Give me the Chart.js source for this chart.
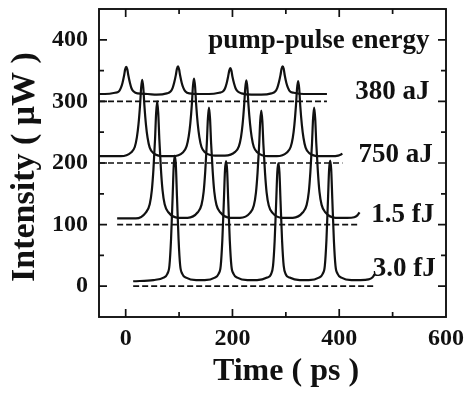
<!DOCTYPE html>
<html>
<head>
<meta charset="utf-8">
<script src="https://cdn.jsdelivr.net/npm/chart.js@4.4.1/dist/chart.umd.min.js"></script>
<style>
 html, body { margin: 0; padding: 0; background: #fff; }
 #wrap { width: 467px; height: 393px; }
</style>
</head>
<body>
<div id="wrap"><canvas id="pulses"></canvas></div>
<script>
// pump-pulse energy labels
var energies = ['380 aJ', '750 aJ', '1.5 fJ', '3.0 fJ'];
// offset of each trace (dashed zero line)
var offsets = [300, 200, 100, 0];
// where each dashed line starts / ends (ps)
var dashStart = [-50, -50, -16, 14];
var dashEnd = [377, 406, 438, 466];
// tick values
var xTickVals = [-50, 0, 100, 200, 300, 400, 500, 600];
var yTickVals = [-50, 0, 50, 100, 150, 200, 250, 300, 350, 400, 450];

// 380 aJ
var t380 = [-50,
 -39, -20, -13, -9, -6, -3, -1, 1, 3, 5, 8, 11, 15, 22, 41,
 58, 77, 84, 88, 91, 94, 96, 98, 100, 102, 105, 108, 112, 119, 138,
 156, 175, 182, 186, 189, 192, 194, 196, 198, 200, 203, 206, 210, 217, 236,
 254, 273, 280, 284, 287, 290, 292, 294, 296, 298, 301, 304, 308, 315, 334,
 377];
var i380 = [312,
 312, 314, 316, 322, 330, 342, 352, 356, 352, 342, 330, 321, 316, 313, 312,
 311, 313, 316, 322, 331, 343, 353, 357, 352, 342, 330, 322, 316, 313, 312,
 312, 314, 316, 321, 329, 341, 350, 354, 350, 340, 329, 321, 316, 313, 311,
 311, 313, 316, 322, 331, 343, 353, 357, 353, 342, 330, 322, 316, 314, 312,
 312];

// 750 aJ
var t750 = [-50,
 -9, 10, 17, 21, 24, 27, 29, 31, 33, 35, 38, 41, 45, 52, 71,
 88, 107, 114, 118, 121, 124, 126, 128, 130, 132, 135, 138, 142, 149, 168,
 186, 205, 212, 216, 219, 222, 224, 226, 228, 230, 233, 236, 240, 247, 266,
 283, 302, 309, 313, 316, 319, 321, 323, 325, 327, 330, 333, 337, 344, 363,
 385, 398, 406];
var i750 = [211,
 211, 217, 226, 242, 263, 295, 323, 335, 322, 294, 262, 241, 225, 216, 211,
 211, 217, 227, 243, 264, 296, 325, 337, 324, 295, 263, 242, 226, 217, 212,
 212, 218, 227, 242, 263, 295, 322, 334, 322, 294, 263, 242, 226, 217, 211,
 211, 217, 226, 241, 262, 294, 321, 333, 321, 293, 262, 241, 225, 216, 211,
 211, 212, 215];

// 1.5 fJ
var t15 = [-16,
 19, 38, 45, 49, 52, 55, 57, 59, 61, 63, 66, 69, 73, 80, 99,
 116, 135, 142, 146, 149, 152, 154, 156, 158, 160, 163, 166, 170, 177, 196,
 214, 233, 240, 244, 247, 250, 252, 254, 256, 258, 261, 264, 268, 275, 294,
 313, 332, 339, 343, 346, 349, 351, 353, 355, 357, 360, 363, 367, 374, 393,
 415, 428, 434, 438];
var i15 = [110,
 110, 120, 133, 156, 190, 239, 281, 300, 281, 239, 190, 156, 133, 120, 111,
 111, 120, 132, 153, 186, 232, 272, 290, 272, 232, 186, 153, 132, 120, 111,
 111, 119, 131, 152, 184, 229, 268, 285, 268, 229, 184, 152, 131, 119, 111,
 111, 120, 132, 153, 186, 232, 272, 290, 272, 232, 186, 153, 132, 120, 111,
 111, 112, 115, 120];

// 3.0 fJ
var t30 = [14,
 52, 71, 78, 82, 85, 88, 90, 92, 94, 96, 99, 102, 106, 113, 132,
 148, 167, 174, 178, 181, 184, 186, 188, 190, 192, 195, 198, 202, 209, 228,
 246, 265, 272, 276, 279, 282, 284, 286, 288, 290, 293, 296, 300, 307, 326,
 343, 362, 369, 373, 376, 379, 381, 383, 385, 387, 390, 393, 397, 404, 423,
 440, 455, 462, 466];
var i30 = [8,
 10, 14, 20, 34, 77, 147, 196, 212, 196, 147, 77, 34, 20, 14, 10,
 10, 14, 20, 33, 74, 141, 188, 203, 188, 141, 74, 33, 20, 14, 10,
 10, 14, 19, 33, 73, 139, 185, 200, 185, 139, 73, 33, 19, 14, 10,
 10, 14, 20, 33, 74, 142, 189, 204, 189, 142, 74, 33, 20, 14, 10,
 10, 11, 14, 19];

var times = [t380, t750, t15, t30];
var intens = [i380, i750, i15, i30];

function pts(xs, ys) {
  return xs.map(function (x, k) { return { x: x, y: ys[k] }; });
}

var datasets = [];
for (var k = 0; k < energies.length; k++) {
  datasets.push({
    label: energies[k],
    data: pts(times[k], intens[k]),
    borderColor: '#111',
    borderWidth: 2.2,
    pointRadius: 0,
    cubicInterpolationMode: 'monotone',
    fill: false
  });
  datasets.push({
    label: energies[k] + ' zero',
    data: [{ x: dashStart[k], y: offsets[k] }, { x: dashEnd[k], y: offsets[k] }],
    borderColor: '#111',
    borderWidth: 1.7,
    borderDash: [6, 3],
    pointRadius: 0,
    fill: false
  });
}

var serif = '"Liberation Serif", "Times New Roman", serif';

// frame with inward ticks on all four sides, axis titles and the text labels
var framePlugin = {
  id: 'frame',
  afterDatasetsDraw: function (chart) {
    var ctx = chart.ctx, a = chart.chartArea;
    var xs = chart.scales.x, ys = chart.scales.y;
    ctx.save();
    ctx.strokeStyle = '#111';
    ctx.lineWidth = 1.9;
    ctx.strokeRect(a.left, a.top, a.right - a.left, a.bottom - a.top);
    ctx.lineWidth = 1.7;
    ctx.beginPath();
    xs.ticks.forEach(function (t) {
      if (t.value <= xs.min || t.value >= xs.max) return;
      var p = xs.getPixelForValue(t.value);
      var len = t.value % 200 === 0 ? 8 : 5;
      ctx.moveTo(p, a.bottom); ctx.lineTo(p, a.bottom - len);
      ctx.moveTo(p, a.top); ctx.lineTo(p, a.top + len);
    });
    ys.ticks.forEach(function (t) {
      if (t.value <= ys.min || t.value >= ys.max) return;
      var p = ys.getPixelForValue(t.value);
      var len = t.value % 100 === 0 ? 8 : 5;
      ctx.moveTo(a.left, p); ctx.lineTo(a.left + len, p);
      ctx.moveTo(a.right, p); ctx.lineTo(a.right - len, p);
    });
    ctx.stroke();

    ctx.fillStyle = '#111';
    ctx.textAlign = 'right';
    ctx.textBaseline = 'alphabetic';
    ctx.font = 'bold 27px ' + serif;
    var notes = [
      ['pump-pulse energy', 569, 387],
      [energies[0], 569, 304],
      [energies[1], 575, 201],
      [energies[2], 578, 105],
      [energies[3], 581, 16]
    ];
    notes.forEach(function (n) {
      ctx.fillText(n[0], xs.getPixelForValue(n[1]), ys.getPixelForValue(n[2]));
    });

    // axis titles
    ctx.textAlign = 'center';
    ctx.textBaseline = 'middle';
    ctx.font = 'bold 32px ' + serif;
    ctx.fillText('Time ( ps )', 286, 372);
    ctx.translate(25, 167);
    ctx.rotate(-Math.PI / 2);
    ctx.font = 'bold 34px ' + serif;
    ctx.fillText('Intensity ( μW )', 0, 0);
    ctx.restore();
  }
};

var config = {
  type: 'line',
  data: { datasets: datasets },
  options: {
    responsive: true,
    maintainAspectRatio: false,
    animation: false,
    layout: { padding: { top: 9, right: 21, left: 0, bottom: 0 } },
    plugins: {
      legend: { display: false },
      tooltip: { enabled: false }
    },
    scales: {
      x: {
        type: 'linear',
        min: -50,
        max: 600,
        grid: { display: false, drawTicks: false },
        border: { display: false },
        afterBuildTicks: function (s) { s.ticks = xTickVals.map(function (v) { return { value: v }; }); },
        ticks: {
          autoSkip: false,
          maxRotation: 0,
          padding: 10,
          color: '#111',
          font: { family: serif, size: 24, weight: 'bold', lineHeight: 1 },
          callback: function (v) { return (v >= 0 && v % 200 === 0) ? String(v) : ''; }
        },
        afterFit: function (s) { s.height = 76; s.paddingLeft = 0; s.paddingRight = 0; }
      },
      y: {
        type: 'linear',
        min: -50,
        max: 450,
        grid: { display: false, drawTicks: false },
        border: { display: false },
        afterBuildTicks: function (s) { s.ticks = yTickVals.map(function (v) { return { value: v }; }); },
        ticks: {
          autoSkip: false,
          padding: 11,
          color: '#111',
          font: { family: serif, size: 24, weight: 'bold', lineHeight: 1 },
          callback: function (v) { return (v >= 0 && v <= 400 && v % 100 === 0) ? String(v) : ''; }
        },
        afterFit: function (s) { s.width = 99; s.paddingTop = 0; s.paddingBottom = 0; }
      }
    }
  },
  plugins: [framePlugin]
};

window.onload = function () {
  var ctx = document.getElementById('pulses').getContext('2d');
  window.pulseChart = new Chart(ctx, config);
};
</script>
</body>
</html>
